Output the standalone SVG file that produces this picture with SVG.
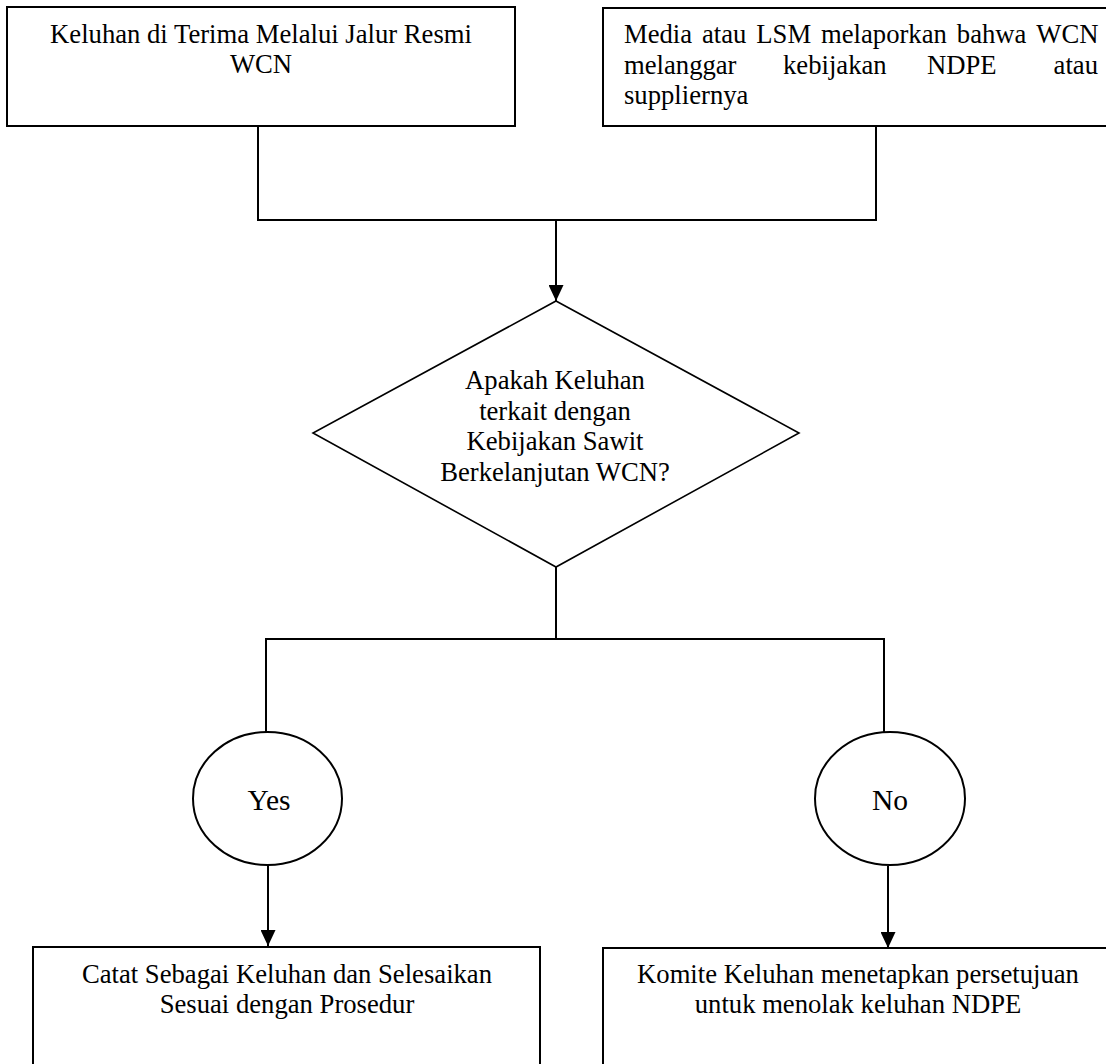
<svg xmlns="http://www.w3.org/2000/svg" width="1106" height="1064" viewBox="0 0 1106 1064">
<style>
.box{fill:#fff;stroke:#000;stroke-width:2}
.dia{fill:#fff;stroke:#000;stroke-width:1.6}
.conn{fill:none;stroke:#000;stroke-width:2}
.t{font-family:"Liberation Serif","Times New Roman",serif;font-size:26.67px;fill:#000}
.c{text-anchor:middle}
.big{font-size:29.5px}
</style>
<defs>
<marker id="arr" viewBox="0 0 16 15" refX="16" refY="7.5" markerWidth="16" markerHeight="15" markerUnits="userSpaceOnUse" orient="auto">
<path d="M0,0 L16,7.5 L0,15 z" fill="#000"/>
</marker>
</defs>
<rect width="1106" height="1064" fill="#fff"/>
<g id="connectors">
<polyline class="conn" points="258,126 258,220 876,220 876,126"/>
<line class="conn" x1="556" y1="220" x2="556" y2="301" marker-end="url(#arr)"/>
<line class="conn" x1="556" y1="567" x2="556" y2="639"/>
<polyline class="conn" points="266,732 266,639 884,639 884,732"/>
<line class="conn" x1="268" y1="865" x2="268" y2="946" marker-end="url(#arr)"/>
<line class="conn" x1="888" y1="866" x2="888" y2="948" marker-end="url(#arr)"/>
</g>
<g id="node-jalur-resmi">
<rect class="box" x="7" y="7" width="508" height="119"/>
<text class="t c" x="261" y="42.7">Keluhan di Terima Melalui Jalur Resmi</text>
<text class="t c" x="261" y="73.4">WCN</text>
</g>
<g id="node-media-lsm">
<rect class="box" x="603" y="8" width="510" height="118"/>
<text class="t"><tspan x="624" y="43">Media</tspan><tspan x="702">atau</tspan><tspan x="756.3">LSM</tspan><tspan x="821">melaporkan</tspan><tspan x="956.8">bahwa</tspan><tspan x="1036.3">WCN</tspan></text>
<text class="t"><tspan x="624" y="73.7">melanggar</tspan><tspan x="783">kebijakan</tspan><tspan x="927">NDPE</tspan><tspan x="1053.6">atau</tspan></text>
<text class="t" x="624" y="104.4">suppliernya</text>
</g>
<g id="node-decision">
<polygon class="dia" points="556,301 799,433 556,567 313,433"/>
<text class="t c" x="555" y="389">Apakah Keluhan</text>
<text class="t c" x="555" y="419.7">terkait dengan</text>
<text class="t c" x="555" y="450.4">Kebijakan Sawit</text>
<text class="t c" x="555" y="481.1">Berkelanjutan WCN?</text>
</g>
<g id="node-yes">
<ellipse class="box" cx="267.5" cy="798.5" rx="74.5" ry="66.5"/>
<text class="t c big" x="269" y="810">Yes</text>
</g>
<g id="node-no">
<ellipse class="box" cx="890" cy="798.5" rx="75" ry="66.5"/>
<text class="t c big" x="890" y="810">No</text>
</g>
<g id="node-catat">
<rect class="box" x="33" y="947" width="507" height="130"/>
<text class="t c" x="287" y="982.7">Catat Sebagai Keluhan dan Selesaikan</text>
<text class="t c" x="287" y="1013.4">Sesuai dengan Prosedur</text>
</g>
<g id="node-komite">
<rect class="box" x="603" y="948" width="510" height="130"/>
<text class="t c" x="858" y="982.7">Komite Keluhan menetapkan persetujuan</text>
<text class="t c" x="858" y="1013.4">untuk menolak keluhan NDPE</text>
</g>
</svg>
